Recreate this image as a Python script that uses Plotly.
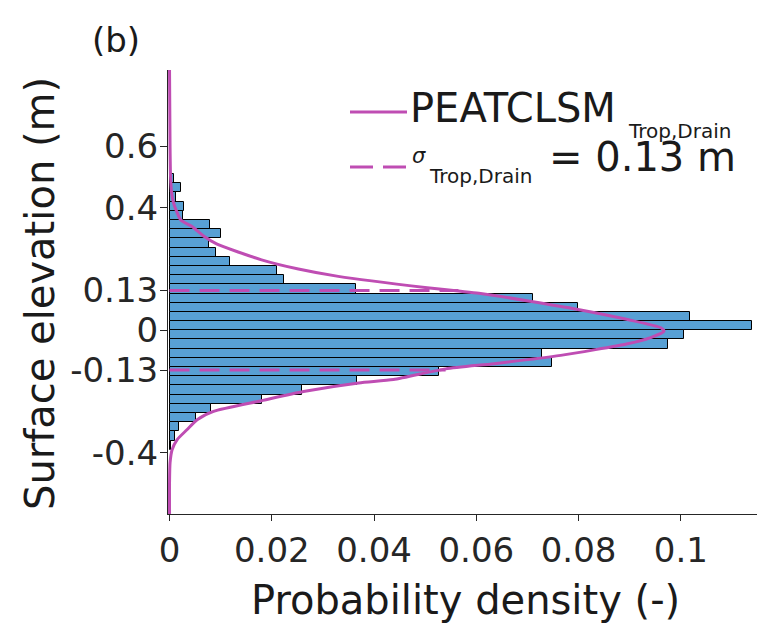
import plotly.graph_objects as go

# ---------------- data ----------------
bin_centers = [0.495, 0.465, 0.435, 0.405, 0.375, 0.345, 0.315, 0.285, 0.255, 0.225,
               0.195, 0.165, 0.135, 0.105, 0.075, 0.045, 0.015, -0.015, -0.045, -0.075,
               -0.105, -0.135, -0.165, -0.195, -0.225, -0.255, -0.285, -0.315, -0.345, -0.375]
bin_prob = [0.0008, 0.0022, 0.0012, 0.0029, 0.0027, 0.0080, 0.0101, 0.0078, 0.0090, 0.0119,
            0.0211, 0.0224, 0.0364, 0.0710, 0.0799, 0.1018, 0.1140, 0.1007, 0.0974, 0.0729,
            0.0749, 0.0528, 0.0367, 0.0260, 0.0181, 0.0082, 0.0051, 0.0018, 0.0010, 0.0003]
bin_width = 0.03

curve_elev = [0.85, 0.60, 0.50, 0.45, 0.415, 0.392, 0.36, 0.339, 0.306, 0.282, 0.23, 0.20,
              0.176, 0.139, 0.128, 0.121, 0.095, 0.068, 0.035, 0.008, -0.003, -0.024, -0.044,
              -0.082, -0.109, -0.126, -0.161, -0.172, -0.20, -0.23, -0.265, -0.292, -0.325,
              -0.357, -0.39, -0.433, -0.50, -0.60]
curve_dens = [0.0, 0.0001, 0.0002, 0.0004, 0.0008, 0.0013, 0.0022, 0.0044, 0.0068, 0.0092,
              0.0180, 0.0252, 0.0330, 0.0504, 0.0565, 0.0605, 0.0705, 0.0799, 0.0896, 0.0961,
              0.0967, 0.0941, 0.0896, 0.0765, 0.0635, 0.0540, 0.0438, 0.0370, 0.0262, 0.0180,
              0.0086, 0.0054, 0.0034, 0.0015, 0.0005, 0.0001, 0.0, 0.0]

sigma_levels = [0.13, -0.13]
sigma_line_end = [0.0565, 0.0540]

x_tickvals = [0, 0.02, 0.04, 0.06, 0.08, 0.1]
x_ticktext = ["0", "0.02", "0.04", "0.06", "0.08", "0.1"]
y_tickvals = [-0.4, -0.13, 0, 0.13, 0.4, 0.6]
y_ticktext = ["-0.4", "-0.13", "0", "0.13", "0.4", "0.6"]

# ---------------- styling / layout ----------------
W, H = 757, 624
L, R, T, B = 168, 0, 70, 110
FONT = "DejaVu Sans"
TXT = "#262626"
MAG = "#BF4DB3"
BAR = "rgb(88,160,212)"

def pxx(p):
    return (p - L) / (W - L - R)

def pxy(p):
    return (H - B - p) / (H - T - B)

fig = go.Figure()
fig.add_trace(go.Bar(
    y=bin_centers, x=bin_prob, orientation="h", width=bin_width,
    marker=dict(color=BAR, line=dict(color="black", width=1)),
    showlegend=False, hoverinfo="skip"))

for lvl, end in zip(sigma_levels, sigma_line_end):
    fig.add_trace(go.Scatter(
        x=[0, end], y=[lvl, lvl], mode="lines",
        line=dict(color=MAG, width=3, dash="20px,10px"),
        showlegend=False, hoverinfo="skip"))

fig.add_trace(go.Scatter(
    x=curve_dens, y=curve_elev, mode="lines",
    line=dict(color=MAG, width=3, shape="spline", smoothing=0.6),
    showlegend=False, hoverinfo="skip"))

axis_common = dict(
    showline=True, linecolor=TXT, linewidth=1, ticks="outside", tickcolor=TXT,
    showgrid=False, zeroline=False, layer="below traces",
    tickfont=dict(family=FONT, size=34, color=TXT))

fig.update_xaxes(range=[-0.0003, 0.1149], tickvals=x_tickvals, ticktext=x_ticktext,
                 ticklen=6, **axis_common)
fig.update_yaxes(range=[-0.6, 0.85], tickvals=y_tickvals, ticktext=y_ticktext,
                 ticklen=7, ticklabelstandoff=-5, **axis_common)

ann = []
ann.append(dict(text="(b)", x=pxx(116), y=pxy(40), font=dict(size=34)))
ann.append(dict(text="Surface elevation (m)", x=pxx(40), y=pxy(294), textangle=-90,
                font=dict(size=40)))
ann.append(dict(text="Probability density (-)", x=pxx(465), y=pxy(600), font=dict(size=40)))
# legend text
ann.append(dict(text="PEATCLSM", x=pxx(409), y=pxy(108), xanchor="left", font=dict(size=40)))
ann.append(dict(text="Trop,Drain", x=pxx(627), y=pxy(131), xanchor="left", font=dict(size=20)))
ann.append(dict(text="<i>σ</i>", x=pxx(411), y=pxy(156), xanchor="left", font=dict(size=21)))
ann.append(dict(text="Trop,Drain", x=pxx(428), y=pxy(176), xanchor="left", font=dict(size=20)))
ann.append(dict(text="= 0.13 m", x=pxx(548), y=pxy(157), xanchor="left", font=dict(size=40)))
for a in ann:
    a.setdefault("xanchor", "center")
    a.update(xref="paper", yref="paper", yanchor="middle", showarrow=False, borderpad=0)
    a["font"] = dict(family=FONT, color="#1a1a1a", **a["font"])

shapes = [
    dict(type="line", xref="paper", yref="paper", x0=pxx(350), x1=pxx(407),
         y0=pxy(112), y1=pxy(112), line=dict(color=MAG, width=3)),
    dict(type="line", xref="paper", yref="paper", x0=pxx(350), x1=pxx(407),
         y0=pxy(167), y1=pxy(167), line=dict(color=MAG, width=3, dash="23px,10px")),
]

fig.update_layout(
    width=W, height=H, margin=dict(l=L, r=R, t=T, b=B, pad=0),
    paper_bgcolor="white", plot_bgcolor="white", bargap=0,
    annotations=ann, shapes=shapes, showlegend=False,
    font=dict(family=FONT, color=TXT))

fig.write_html("out.html")
